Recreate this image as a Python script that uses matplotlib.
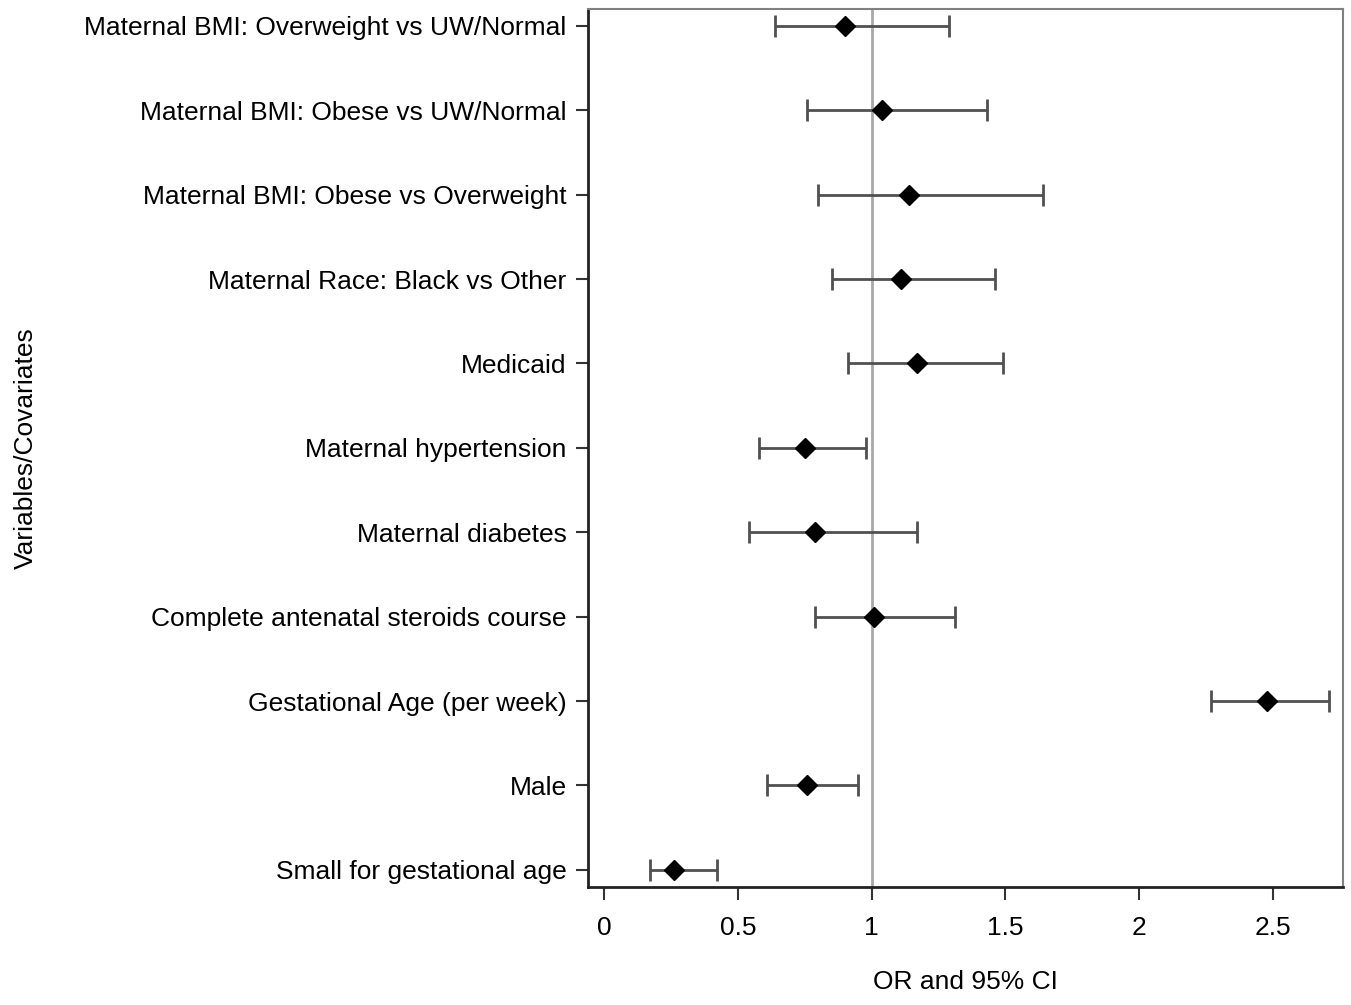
import numpy as np
import matplotlib
matplotlib.use("Agg")
import matplotlib.pyplot as plt

labels = [
    "Maternal BMI: Overweight vs UW/Normal",
    "Maternal BMI: Obese vs UW/Normal",
    "Maternal BMI: Obese vs Overweight",
    "Maternal Race: Black vs Other",
    "Medicaid",
    "Maternal hypertension",
    "Maternal diabetes",
    "Complete antenatal steroids course",
    "Gestational Age (per week)",
    "Male",
    "Small for gestational age",
]
odds_ratio = [0.90, 1.04, 1.14, 1.11, 1.17, 0.75, 0.79, 1.01, 2.48, 0.76, 0.26]
ci_low = [0.64, 0.76, 0.80, 0.85, 0.91, 0.58, 0.54, 0.79, 2.27, 0.61, 0.17]
ci_high = [1.29, 1.43, 1.64, 1.46, 1.49, 0.98, 1.17, 1.31, 2.71, 0.95, 0.42]
xticks = [0, 0.5, 1, 1.5, 2, 2.5]


def main():
    plt.rcParams['font.family'] = ['Liberation Sans', 'DejaVu Sans']
    fig = plt.figure(figsize=(13.51, 10.05), dpi=100)
    ax = fig.add_axes([0.4349, 0.1177, 0.5592, 0.8733])

    y = np.arange(len(labels))
    or_ = np.array(odds_ratio)
    err = [or_ - np.array(ci_low), np.array(ci_high) - or_]

    ax.axvline(1, color='#a8a8a8', lw=2, zorder=1)
    ax.errorbar(or_, y, xerr=err, fmt='none', ecolor='#505050',
                elinewidth=2, capsize=8, capthick=2, zorder=2)
    ax.plot(or_, y, 'D', color='black', ms=10.5, zorder=3)

    ax.set_ylim(len(labels) - 0.8, -0.2)
    ax.set_xlim(-0.0625, 2.763)
    ax.set_yticks(y)
    ax.set_yticklabels(labels, fontsize=19)
    ax.set_xticks(xticks)
    ax.set_xticklabels([f"{t:g}" for t in xticks], fontsize=19)
    ax.tick_params(axis='both', direction='out', length=9, width=1.5,
                   color='#333333', pad=12)
    ax.tick_params(axis='y', pad=6)

    for side in ['left', 'bottom']:
        ax.spines[side].set_color('#222222')
        ax.spines[side].set_linewidth(2)
    for side in ['top', 'right']:
        ax.spines[side].set_color('#808080')
        ax.spines[side].set_linewidth(1.5)

    ax.set_xlabel("OR and 95% CI", fontsize=19)
    ax.xaxis.set_label_coords(0.5, -0.095)
    ax.set_ylabel("Variables/Covariates", fontsize=19)
    ax.yaxis.set_label_coords(-0.727, 0.5)

    fig.savefig("out.png", dpi=100)


if __name__ == '__main__':
    main()
